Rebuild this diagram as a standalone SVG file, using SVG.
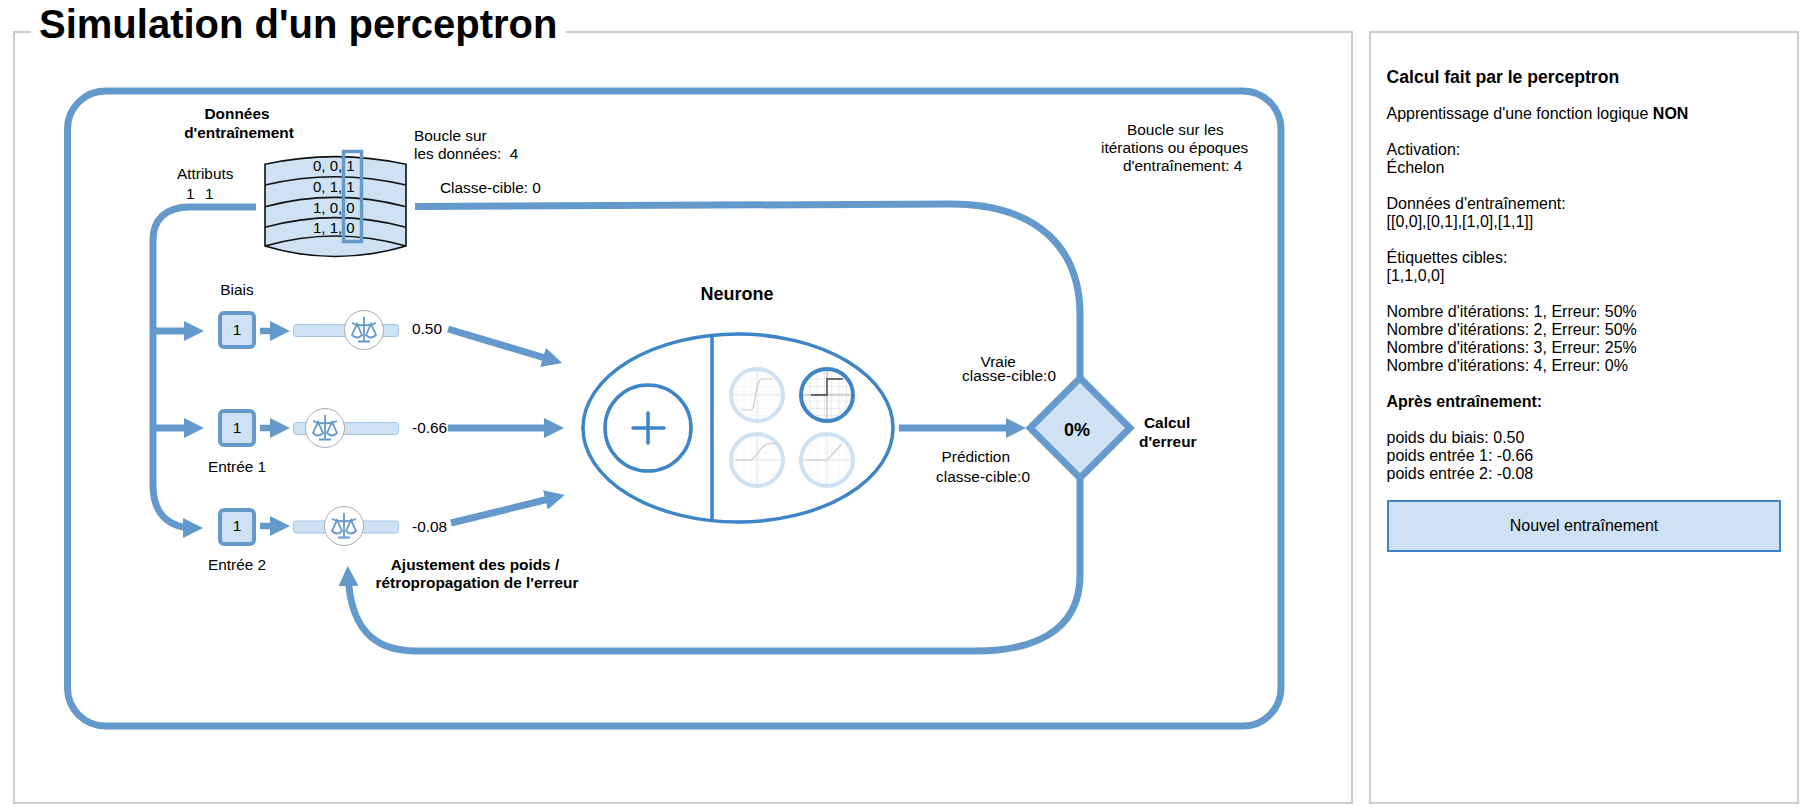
<svg xmlns="http://www.w3.org/2000/svg" width="1815" height="812" viewBox="0 0 1815 812">
<style>
text{font-family:"Liberation Sans",Arial,sans-serif;font-size:15.4px;fill:#000}
.b{font-weight:bold}
.m{text-anchor:middle}
.p{font-size:16px}
.box{fill:none;stroke:#ccc;stroke-width:2}
.conn{fill:none;stroke:#6499cc;stroke-width:7}
.hd{stroke-width:6.5}
.cell{fill:#cfe2f3;stroke:#6499cc;stroke-width:4}
.track{fill:#cfe2f3;stroke:#9fc5e8;stroke-width:1}
.knob{fill:#fff;stroke:#aaa;stroke-width:1}
.sc{fill:none;stroke:#6499cc;stroke-width:1.8}
.db{fill:#cfe2f3;stroke:#111;stroke-width:1.6}
.dbl{fill:none;stroke:#111;stroke-width:1.6}
.n{fill:none;stroke:#3d85c6;stroke-width:3.5}
.fn{fill:#fff;stroke:#cfe2f3;stroke-width:4}
.on{stroke:#3d85c6}
.axis{fill:none;stroke:#e4e4e4;stroke-width:1}
.curve{fill:none;stroke:#ccc;stroke-width:1.2}
.active{fill:none;stroke:#444;stroke-width:1.4}
</style>
<defs>
<marker id="ah" markerUnits="userSpaceOnUse" viewBox="0 0 20 20" markerWidth="20" markerHeight="20" refX="12" refY="10" orient="auto"><path d="M0 0L20 10L0 20z" fill="#6499cc"/></marker>
<pattern id="grid" width="7.3" height="7.3" patternUnits="userSpaceOnUse" x="0" y="0"><path d="M7.3 0V7.3M0 7.3H7.3" fill="none" stroke="#f0f0f0" stroke-width="1"/></pattern>
<pattern id="gridOn" width="7.3" height="7.3" patternUnits="userSpaceOnUse" x="0" y="0"><path d="M7.3 0V7.3M0 7.3H7.3" fill="none" stroke="#d4d4d4" stroke-width="1"/></pattern>
<g id="scale"><path class="sc" d="M0-13V11M-6 11.500H6" stroke-width="2"/><path class="sc" d="M-12-7Q-6-4 0-5Q6-4 12-7"/><path class="sc" d="M-12 5L-7-6L-2 5Q-7 10-12 5ZM2 5L7-6L12 5Q7 10 2 5Z"/></g>
</defs>
<g id="frames">
<path class="box" d="M31 32H14V803H1352V32H566"/>
<rect class="box" x="1370" y="32" width="428" height="771"/>
<text class="b" x="39" y="37.500" style="font-size:40px">Simulation d'un perceptron</text>
</g>
<g id="connectors">
<rect class="conn" x="67.500" y="91" width="1213.500" height="635" rx="38" ry="38"/>
<path class="conn" d="M256 207L190 207C165 207 153 220 153 240L153 485C153 510 165 528 195 528" marker-end="url(#ah)"/>
<path class="conn" d="M153 331H196" marker-end="url(#ah)"/>
<path class="conn" d="M153 428H196" marker-end="url(#ah)"/>
<path class="conn hd" d="M260 331H282" marker-end="url(#ah)"/>
<path class="conn hd" d="M260 428H282" marker-end="url(#ah)"/>
<path class="conn hd" d="M260 526H282" marker-end="url(#ah)"/>
<path class="conn" d="M448 329L554.500 360.800" marker-end="url(#ah)"/>
<path class="conn" d="M448 428H556" marker-end="url(#ah)"/>
<path class="conn" d="M451 523L557 497" marker-end="url(#ah)"/>
<path class="conn" d="M899 428H1018" marker-end="url(#ah)"/>
<path class="conn" d="M415 206.500L950 204C1040 204 1080 250 1080 315L1080 382"/>
<path class="conn" d="M1080 474L1080 575C1080 620 1050 651 975 651L415 651C375 651 350 630 348 574" marker-end="url(#ah)"/>
</g>
<g id="data">
<path class="db" d="M265 164.300Q335 149 406 164.300V246Q335 267 265 246Z"/>
<path class="dbl" d="M265 185Q335 168.400 406 185M265 206.700Q335 188 406 206.700M265 227.300Q335 208 406 227.300M265 246Q335 226 406 246"/>
<text x="313" y="171" style="font-size:15px">0, 0, 1</text>
<text x="313" y="192" style="font-size:15px">0, 1, 1</text>
<text x="313" y="213" style="font-size:15px">1, 0, 0</text>
<text x="313" y="233" style="font-size:15px">1, 1, 0</text>
<rect x="343.500" y="151.500" width="18" height="90" fill="none" stroke="#6499cc" stroke-width="3.500"/>
<text class="b m" x="237" y="118.500">Données</text>
<text class="b m" x="239" y="138">d'entraînement</text>
</g>
<g id="labels">
<text x="414" y="141">Boucle sur</text>
<text x="414" y="159" xml:space="preserve">les données:  4</text>
<text x="177" y="179">Attributs</text>
<text x="186" y="198.500">1</text><text x="205" y="198.500">1</text>
<text x="440" y="192.500">Classe-cible: 0</text>
<text x="1127" y="134.500">Boucle sur les</text>
<text x="1101" y="153">itérations ou époques</text>
<text x="1123" y="171">d'entraînement: 4</text>
</g>
<g id="biais">
<text class="m" x="237" y="295">Biais</text>
<rect class="cell" x="220" y="313" width="34" height="34" rx="4"/>
<text class="m" x="237" y="335">1</text>
<rect class="track" x="293.500" y="324.500" width="105" height="12" rx="3"/>
<circle class="knob" cx="364" cy="330" r="19.500"/>
<use href="#scale" x="364" y="330"/>
<text x="412" y="334">0.50</text>
</g>
<g id="entree1">
<rect class="cell" x="220" y="411" width="34" height="34" rx="4"/>
<text class="m" x="237" y="433">1</text>
<rect class="track" x="293.500" y="422.500" width="105" height="12" rx="3"/>
<circle class="knob" cx="325" cy="428" r="19.500"/>
<use href="#scale" x="325" y="428"/>
<text x="412" y="433">-0.66</text>
<text x="208" y="472">Entrée 1</text>
</g>
<g id="entree2">
<rect class="cell" x="220" y="510" width="34" height="34" rx="4"/>
<text class="m" x="237" y="531">1</text>
<rect class="track" x="293.500" y="521" width="105" height="12" rx="3"/>
<circle class="knob" cx="344" cy="526" r="19.500"/>
<use href="#scale" x="344" y="526"/>
<text x="412" y="532">-0.08</text>
<text x="208" y="570">Entrée 2</text>
<text class="b m" x="475" y="570">Ajustement des poids /</text>
<text class="b m" x="477" y="588">rétropropagation de l'erreur</text>
</g>
<g id="neurone">
<text class="b m" x="737" y="300" style="font-size:18px">Neurone</text>
<ellipse class="n" cx="738" cy="428" rx="155" ry="94"/>
<path class="n" d="M712 335.500V520.500"/>
<circle class="n" cx="648" cy="428" r="43"/>
<path class="n" stroke-linecap="round" d="M633 428H664M648 413V443"/>
<g id="f1"><circle class="fn" cx="757" cy="395" r="26"/><circle cx="757" cy="395" r="24" fill="url(#grid)"/><path class="axis" d="M757 371V419M733 395H781"/><path class="curve" d="M741 410H751C756 410 755 379 762 379H772"/></g>
<g id="f2"><circle class="fn on" cx="827" cy="395" r="26"/><circle cx="827" cy="395" r="24" fill="url(#gridOn)"/><path d="M827 371V419M803 395H851" stroke="#aaa" fill="none"/><path class="active" d="M811 395H827V379H843"/></g>
<g id="f3"><circle class="fn" cx="757" cy="460" r="26"/><circle cx="757" cy="460" r="24" fill="url(#grid)"/><path class="axis" d="M757 436V484M733 460H781"/><path class="curve" d="M736 460H750C756 460 760 443.500 771 443.500H776"/></g>
<g id="f4"><circle class="fn" cx="827" cy="460" r="26"/><circle cx="827" cy="460" r="24" fill="url(#grid)"/><path class="axis" d="M827 436V484M803 460H851"/><path class="curve" d="M806 460H827L842 444"/></g>
</g>
<g id="erreur">
<path d="M1080 378L1130 428L1080 478L1030 428Z" fill="#cfe2f3" stroke="#6499cc" stroke-width="6.800"/>
<text class="b m" x="1077" y="436" style="font-size:18px">0%</text>
<text x="980.500" y="367">Vraie</text>
<text x="962" y="381" textLength="94">classe-cible:0</text>
<text x="941.500" y="462">Prédiction</text>
<text x="936" y="481.500" textLength="94">classe-cible:0</text>
<text class="b" x="1144" y="428">Calcul</text>
<text class="b" x="1139" y="447">d'erreur</text>
</g>
<g id="panneau">
<text class="b" x="1386.500" y="83" style="font-size:17.600px">Calcul fait par le perceptron</text>
<text class="p" x="1386.500" y="119">Apprentissage d'une fonction logique <tspan class="b">NON</tspan></text>
<text class="p" x="1386.500" y="155">Activation:</text>
<text class="p" x="1386.500" y="173">Échelon</text>
<text class="p" x="1386.500" y="209">Données d'entraînement:</text>
<text class="p" x="1386.500" y="227">[[0,0],[0,1],[1,0],[1,1]]</text>
<text class="p" x="1386.500" y="263">Étiquettes cibles:</text>
<text class="p" x="1386.500" y="281">[1,1,0,0]</text>
<text class="p" x="1386.500" y="317">Nombre d'itérations: 1, Erreur: 50%</text>
<text class="p" x="1386.500" y="335">Nombre d'itérations: 2, Erreur: 50%</text>
<text class="p" x="1386.500" y="353">Nombre d'itérations: 3, Erreur: 25%</text>
<text class="p" x="1386.500" y="371">Nombre d'itérations: 4, Erreur: 0%</text>
<text class="p b" x="1386.500" y="407">Après entraînement:</text>
<text class="p" x="1386.500" y="443">poids du biais: 0.50</text>
<text class="p" x="1386.500" y="461">poids entrée 1: -0.66</text>
<text class="p" x="1386.500" y="479">poids entrée 2: -0.08</text>
</g>
<g id="bouton">
<rect x="1388" y="501" width="392" height="50" fill="#cfe2f3" stroke="#3d85c6" stroke-width="2"/>
<text class="p m" x="1584" y="531">Nouvel entraînement</text>
</g>
</svg>
